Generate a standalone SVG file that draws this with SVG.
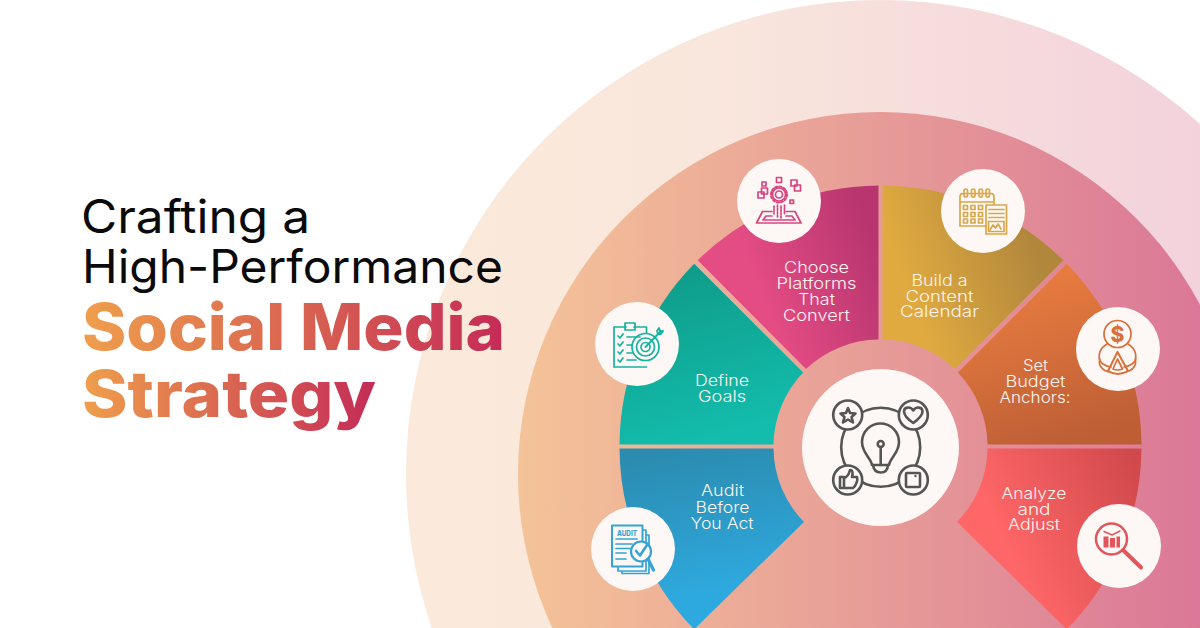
<svg xmlns="http://www.w3.org/2000/svg" width="1200" height="628" viewBox="0 0 1200 628">
<style>
.t{font-family:"Inter","Liberation Sans",sans-serif}
.lb{font-size:16px;fill:#fdf4ee;text-anchor:middle;font-weight:300}
.h1{font-size:46px;fill:#0a0a0a;font-weight:400}
.h2{font-size:64px;fill:url(#gt);font-weight:800}
.disc{fill:#fdf8f5}
.ic{fill:none;stroke-width:1.7;stroke-linejoin:round;stroke-linecap:round}
</style>
<defs>
<linearGradient id="gt"><stop offset="0" stop-color="#ef9f4c"/><stop offset="1" stop-color="#c42b57"/></linearGradient>
<linearGradient id="g1" gradientUnits="userSpaceOnUse" x1="406" y1="0" x2="1200" y2="0"><stop offset="0" stop-color="#fbeadb"/><stop offset="0.4" stop-color="#f9e6dc"/><stop offset="1" stop-color="#f3d2dc"/></linearGradient>
<linearGradient id="g2" gradientUnits="userSpaceOnUse" x1="518" y1="0" x2="1200" y2="0"><stop offset="0" stop-color="#f4c398"/><stop offset="1" stop-color="#db7897"/></linearGradient>
<linearGradient id="teal" x1="0.2" y1="0" x2="0.5" y2="1"><stop offset="0" stop-color="#0f9a88"/><stop offset="1" stop-color="#13bdad"/></linearGradient>
<linearGradient id="pink" x1="0.35" y1="0.6" x2="1" y2="0.35"><stop offset="0" stop-color="#e44c84"/><stop offset="1" stop-color="#b8356f"/></linearGradient>
<linearGradient id="gold" x1="0.15" y1="0.6" x2="0.85" y2="0.35"><stop offset="0" stop-color="#e0aa40"/><stop offset="1" stop-color="#b1873c"/></linearGradient>
<linearGradient id="orange" x1="0.3" y1="0.1" x2="0.6" y2="1"><stop offset="0" stop-color="#e87c40"/><stop offset="1" stop-color="#bd5e35"/></linearGradient>
<linearGradient id="blue" x1="0.4" y1="0" x2="0.55" y2="0.8"><stop offset="0" stop-color="#2b8cb0"/><stop offset="1" stop-color="#2ea9df"/></linearGradient>
<linearGradient id="red" x1="0.25" y1="0.5" x2="1" y2="0.15"><stop offset="0" stop-color="#fe6667"/><stop offset="1" stop-color="#d1494c"/></linearGradient>
</defs>

<g id="background">
<circle cx="880" cy="474" r="474" fill="url(#g1)"/>
<circle cx="880" cy="474" r="362" fill="url(#g2)"/>
</g>

<g id="title" class="t">
<text class="t h1" x="81" y="233" textLength="229" lengthAdjust="spacingAndGlyphs">Crafting a</text>
<text class="t h1" x="82" y="283" textLength="421" lengthAdjust="spacingAndGlyphs">High-Performance</text>
<text class="t h2" x="82" y="350" textLength="423" lengthAdjust="spacingAndGlyphs">Social Media</text>
<text class="t h2" x="82" y="417" textLength="294" lengthAdjust="spacingAndGlyphs">Strategy</text>
</g>

<g id="node-define">
<path fill="url(#teal)" d="M694.2 263.7A261 261 0 0 0 619.5 444.5L773.5 444.5A107 107 0 0 1 803.1 372.6Z"/>
<text class="t lb" x="722" y="386" textLength="54" lengthAdjust="spacingAndGlyphs">Define</text>
<text class="t lb" x="722" y="402" textLength="48" lengthAdjust="spacingAndGlyphs">Goals</text>
<circle class="disc" cx="637" cy="344" r="42"/>
<g class="ic" stroke="#13b3a1">
<path d="M626 327H614V367H646.5M646.5 333V327H634"/>
<path d="M625 327V323H635V327V330H625Z"/>
<path d="M618 336l2 2 3-4M618 344l2 2 3-4M618 352l2 2 3-4M618 360l2 2 3-4M627 337H640M627 345H632M627 353H632M627 360H636"/>
<circle cx="645.5" cy="347" r="13.5"/><circle cx="645.5" cy="347" r="9"/><circle cx="645.5" cy="347" r="4.5"/>
<path d="M645.5 347L660 332M657 331l2-3 1 3 3 0-2 3-3 0Z" stroke-width="1.8"/>
</g>
</g>

<g id="node-platforms">
<path fill="url(#pink)" d="M878.5 185.5L878.5 339.5A107 107 0 0 0 806 369L697.7 260.2A261 261 0 0 1 878.5 185.5Z"/>
<text class="t lb" x="816.5" y="272.5" textLength="65" lengthAdjust="spacingAndGlyphs">Choose</text>
<text class="t lb" x="816.5" y="288.5" textLength="80" lengthAdjust="spacingAndGlyphs">Platforms</text>
<text class="t lb" x="816.5" y="304.5" textLength="37" lengthAdjust="spacingAndGlyphs">That</text>
<text class="t lb" x="816.5" y="320.5" textLength="67" lengthAdjust="spacingAndGlyphs">Convert</text>
<circle class="disc" cx="779" cy="201" r="42"/>
<g class="ic" stroke="#d8437f">
<circle cx="779" cy="194.5" r="3.5"/><circle cx="779" cy="194.5" r="6.5"/>
<circle cx="779" cy="194.5" r="8" stroke-dasharray="2.2 2" stroke-width="2"/>
<rect x="762" y="182" width="4" height="4"/><rect x="776.5" y="177.5" width="5" height="5"/><rect x="790" y="200" width="3.5" height="3.5"/>
<rect x="758" y="192" width="6" height="6"/><rect x="761.5" y="188" width="6" height="6"/>
<rect x="791" y="180" width="6" height="6"/><rect x="794.5" y="185" width="6" height="6"/>
<path d="M772 211.5H762.5L756.5 223H801L795 211.5H786M772 216H766L763 220H795L792 216H786"/>
<path d="M774 206V214M777.5 205V218M781 206V218M784.5 205V214" stroke-dasharray="2 1.3"/>
</g>
</g>

<g id="node-calendar">
<path fill="url(#gold)" d="M882.5 185.5L882.5 339.5A107 107 0 0 1 955 369L1063.3 260.2A261 261 0 0 0 882.5 185.5Z"/>
<text class="t lb" x="939.5" y="285.5" textLength="56" lengthAdjust="spacingAndGlyphs">Build a</text>
<text class="t lb" x="939.5" y="301.5" textLength="68" lengthAdjust="spacingAndGlyphs">Content</text>
<text class="t lb" x="939.5" y="317" textLength="79" lengthAdjust="spacingAndGlyphs">Calendar</text>
<circle class="disc" cx="983" cy="211" r="42"/>
<g class="ic" stroke="#d9a74a">
<path d="M986 226H960V197Q960 193.5 963 193.5H991Q994 193.5 994 197V205M960 202H994"/>
<rect x="964" y="189" width="3.5" height="8" rx="1.7"/><rect x="971.5" y="189" width="3.5" height="8" rx="1.7"/><rect x="979" y="189" width="3.5" height="8" rx="1.7"/><rect x="986" y="189" width="3.5" height="8" rx="1.7"/>
<rect x="963.5" y="205.5" width="4" height="4"/><rect x="971" y="205.5" width="4" height="4"/><rect x="978.5" y="205.5" width="4" height="4"/>
<rect x="963.5" y="212.5" width="4" height="4"/><rect x="971" y="212.5" width="4" height="4"/><rect x="978.5" y="212.5" width="4" height="4"/>
<rect x="963.5" y="219" width="4" height="4"/><rect x="971" y="219" width="4" height="4"/><rect x="978.5" y="219" width="4" height="4"/>
<rect x="986" y="205" width="20.5" height="29" fill="#fdf8f5"/>
<path d="M989 209.5H1004M989 213.5H1004M989 217.5H1004"/>
<rect x="988.5" y="221.5" width="15.5" height="10"/>
<path d="M990 230l3-5 2.5 3 2.5-4 3 5"/>
</g>
</g>

<g id="node-budget">
<path fill="url(#orange)" d="M1066.8 263.7A261 261 0 0 1 1141.5 444.5L987.5 444.5A107 107 0 0 0 957.9 372.6Z"/>
<text class="t lb" x="1035.5" y="371" textLength="25" lengthAdjust="spacingAndGlyphs">Set</text>
<text class="t lb" x="1035.5" y="387" textLength="60" lengthAdjust="spacingAndGlyphs">Budget</text>
<text class="t lb" x="1035" y="403" textLength="71" lengthAdjust="spacingAndGlyphs">Anchors:</text>
<circle class="disc" cx="1118" cy="349" r="42"/>
<g class="ic" stroke="#d96f3a">
<circle cx="1117.5" cy="334" r="13.5"/>
<path d="M1107 344C1098 349 1097 360 1103 364C1106 366 1109 367 1111 367M1128 344C1137 349 1138 360 1132 364C1129 366 1126 367 1124 367"/>
<path d="M1099.500 359V364C1101 369 1105 371 1109 372M1135.500 359V364C1134 369 1130 371 1126 372"/>
<path d="M1117.500 352L1108 371Q1117.500 377 1128 371Z" stroke-width="2"/>
<path d="M1117.500 359L1113 369Q1117.500 371 1122.500 369Z"/>
</g>
<text class="t" x="1117.5" y="341.500" font-size="21" font-weight="800" fill="#d96f3a" text-anchor="middle">$</text>
</g>

<g id="node-audit">
<path fill="url(#blue)" d="M619.5 448.5L773.5 448.5A107 107 0 0 0 804 522L694.2 629.3A261 261 0 0 1 619.5 448.5Z"/>
<text class="t lb" x="722.5" y="496" textLength="43" lengthAdjust="spacingAndGlyphs">Audit</text>
<text class="t lb" x="722.5" y="512.5" textLength="54" lengthAdjust="spacingAndGlyphs">Before</text>
<text class="t lb" x="722" y="528.5" textLength="63" lengthAdjust="spacingAndGlyphs">You Act</text>
<circle class="disc" cx="633" cy="549" r="42"/>
<g class="ic" stroke="#33a4d3">
<path d="M643 530H646V571H618V567M646 535H649V573.5H622V571"/>
<rect x="612" y="525.5" width="30.5" height="41" fill="#fdf8f5" stroke-width="2"/>
<path d="M616 539H637M616 544H632M616 548.5H630M616 553H626M616 559H626"/>
<circle cx="641" cy="551.5" r="10" stroke-width="2.2" fill="#fdf8f5"/>
<path d="M636 551l4 4.500 8-12" stroke-width="2.6"/>
<path d="M648 559L653.500 570" stroke-width="3.200"/>
</g>
<text class="t" x="627" y="536" font-size="7.5" font-weight="800" fill="#33a4d3" text-anchor="middle" textLength="20" lengthAdjust="spacingAndGlyphs">AUDIT</text>
</g>

<g id="node-analyze">
<path fill="url(#red)" d="M1141.5 448.5L987.5 448.5A107 107 0 0 1 957 522L1066.8 629.3A261 261 0 0 0 1141.5 448.5Z"/>
<text class="t lb" x="1034" y="499" textLength="65" lengthAdjust="spacingAndGlyphs">Analyze</text>
<text class="t lb" x="1034" y="514.5" textLength="33" lengthAdjust="spacingAndGlyphs">and</text>
<text class="t lb" x="1034" y="530" textLength="52" lengthAdjust="spacingAndGlyphs">Adjust</text>
<circle class="disc" cx="1119" cy="546" r="42"/>
<g class="ic" stroke="#e2555a">
<circle cx="1111.5" cy="539" r="15.5" stroke-width="2.5"/>
<path d="M1123 550L1141 567.5" stroke-width="4"/>
<path d="M1104 531.500l8 3.500 8-4" stroke-width="1.5"/>
</g>
<g fill="#e2555a"><rect x="1103.5" y="536.5" width="5" height="11"/><rect x="1110" y="538" width="5" height="9.5"/><rect x="1116.5" y="536.5" width="3.5" height="11"/></g>
</g>

<g id="node-center">
<circle class="disc" cx="880.5" cy="447.5" r="78.5"/>
<g fill="none" stroke="#555" stroke-width="2.6" stroke-linejoin="round" stroke-linecap="round">
<circle cx="880.7" cy="447.3" r="39.5"/>
<circle cx="847.7" cy="415" r="14.5" fill="#fdf8f5"/>
<circle cx="913.3" cy="415" r="14.5" fill="#fdf8f5"/>
<circle cx="847.7" cy="480" r="14.5" fill="#fdf8f5"/>
<circle cx="913.3" cy="480" r="14.5" fill="#fdf8f5"/>
<path d="M872 465C871 458 862 453 862 442A18.5 18.5 0 0 1 899 442C899 453 890 458 889 465Z"/>
<path d="M873 465Q874 472.5 880.7 472.5Q887.5 472.5 888 465"/>
<circle cx="880.7" cy="444" r="3"/>
<path d="M880.7 447V465"/>
<path d="M848 408L850 413L855.5 413.5L851.5 417L853 422.5L848 419.5L843 422.5L844.5 417L840.5 413.5L846 413Z"/>
<path d="M913.3 423C906 418 904 415 904 411.5C904 407 910.5 406 913.3 410.5C916 406 922.5 407 922.5 411.5C922.5 415 920 418 913.3 423Z"/>
<rect x="906" y="473" width="14" height="14" rx="1"/>
<path d="M840 477H844V488H840ZM844 478C848 477 849 474 850 470C853 470 853 474 852 477H857C858 480 856 486 853 488H844"/>
</g>
<circle cx="915.5" cy="476" r="1.2" fill="#555"/>
</g>
</svg>
